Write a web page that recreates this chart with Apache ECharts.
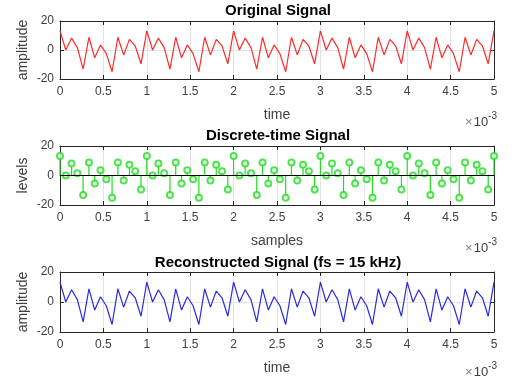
<!DOCTYPE html>
<html>
<head>
<meta charset="utf-8">
<script src="https://cdn.jsdelivr.net/npm/echarts@6/dist/echarts.min.js"></script>
<style>
html,body{margin:0;padding:0;background:#fff;}
#chart{width:527px;height:390px;}
</style>
</head>
<body>
<div id="chart"></div>
<script>
// ---- data ----
const fs = 15000; // sampling frequency (Hz)
const titles = ['Original Signal', 'Discrete-time Signal', 'Reconstructed Signal (fs = 15 kHz)'];
const xNames = ['time', 'samples', 'time'];
const yNames = ['amplitude', 'levels', 'amplitude'];
const xTicks = [0, 0.5, 1, 1.5, 2, 2.5, 3, 3.5, 4, 4.5, 5]; // ×10^-3
const yTicks = [-20, 0, 20];
const signalValues = [
  13.2, 0, 8.2, 1.6, -13.2, 8.8, -5.4, 3.5, -2.5, -15, 8.8, -3.4, 7.3, 2.8, -9.5,
  13.2, 0, 8.2, 1.6, -13.2, 8.8, -5.4, 3.5, -2.5, -15, 8.8, -3.4, 7.3, 2.8, -9.5,
  13.2, 0, 8.2, 1.6, -13.2, 8.8, -5.4, 3.5, -2.5, -15, 8.8, -3.4, 7.3, 2.8, -9.5,
  13.2, 0, 8.2, 1.6, -13.2, 8.8, -5.4, 3.5, -2.5, -15, 8.8, -3.4, 7.3, 2.8, -9.5,
  13.2, 0, 8.2, 1.6, -13.2, 8.8, -5.4, 3.5, -2.5, -15, 8.8, -3.4, 7.3, 2.8, -9.5,
  13.2
];

// ---- build ----
const pts = signalValues.map((v, i) => [i / fs, v]);
const chart = echarts.init(document.getElementById('chart'), null, {renderer: 'canvas'});
const FONT = 'Liberation Sans, Arial, Helvetica, sans-serif';
const AX = '#262626';
const LBL = '#404040';

const grids = [
  {left: 60, right: 33, top: 21, height: 58},
  {left: 60, right: 33, top: 146, height: 59},
  {left: 60, right: 33, top: 272, height: 60}
];

const xAxes = [], yAxes = [], titleArr = [], graphics = [];
const titleTops = [3, 128, 255];
const expTops = [111, 237, 361];
grids.forEach((g, i) => {
  titleArr.push({
    text: titles[i], left: 278, textAlign: 'center', top: titleTops[i], padding: 0,
    textStyle: {fontFamily: FONT, fontSize: 15, fontWeight: 'bold', color: '#000'}
  });
  xAxes.push({
    type: 'value', gridIndex: i, min: 0, max: 0.005, interval: 0.0005,
    name: xNames[i], nameLocation: 'middle', nameGap: 29, nameMoveOverlap: false,
    nameTextStyle: {fontFamily: FONT, fontSize: 14, color: LBL},
    axisLine: {show: true, onZero: false, lineStyle: {color: AX}},
    axisTick: {show: true, inside: true, length: 4, lineStyle: {color: AX}},
    axisLabel: {fontFamily: FONT, fontSize: 12, color: LBL, margin: 7,
      formatter: v => { const t = Math.round(v * 10000) / 10; return xTicks.indexOf(t) >= 0 ? String(t) : ''; }},
    splitLine: {show: true, lineStyle: {color: '#e3e3e3'}}
  });
  xAxes.push({
    type: 'value', gridIndex: i, position: 'top', min: 0, max: 0.005, interval: 0.0005,
    axisLine: {show: true, onZero: false, lineStyle: {color: AX}},
    axisTick: {show: true, inside: true, length: 4, lineStyle: {color: AX}},
    axisLabel: {show: false}, splitLine: {show: false}
  });
  yAxes.push({
    type: 'value', gridIndex: i, min: -20, max: 20, interval: 20,
    name: yNames[i], nameLocation: 'middle', nameGap: 30, nameRotate: 90, nameMoveOverlap: false,
    nameTextStyle: {fontFamily: FONT, fontSize: 14, color: LBL},
    axisLine: {show: true, onZero: false, lineStyle: {color: AX}},
    axisTick: {show: true, inside: true, length: 4, lineStyle: {color: AX}},
    axisLabel: {fontFamily: FONT, fontSize: 12, color: LBL, margin: 6,
      formatter: v => yTicks.indexOf(v) >= 0 ? String(v) : ''},
    splitLine: {show: true, lineStyle: {color: '#e3e3e3'}}
  });
  yAxes.push({
    type: 'value', gridIndex: i, position: 'right', min: -20, max: 20, interval: 20,
    axisLine: {show: true, onZero: false, lineStyle: {color: AX}},
    axisTick: {show: true, inside: true, length: 4, lineStyle: {color: AX}},
    axisLabel: {show: false}, splitLine: {show: false}
  });
  graphics.push({
    type: 'text', right: 30, top: expTops[i],
    style: {
      text: '{a|×}{b|10}{c|-3}',
      rich: {
        a: {fontFamily: FONT, fontSize: 13, fill: '#808080', padding: [2, 1, 0, 0]},
        b: {fontFamily: FONT, fontSize: 13, fill: LBL, padding: [2, 0, 0, 0]},
        c: {fontFamily: FONT, fontSize: 10, fill: LBL, padding: [0, 0, 10, 0]}
      }
    }
  });
});

const series = [
  {
    type: 'line', xAxisIndex: 0, yAxisIndex: 0, data: pts, symbol: 'none',
    lineStyle: {color: '#ff2a2a', width: 1.2}, animation: false
  },
  {
    type: 'custom', xAxisIndex: 2, yAxisIndex: 2, data: pts, animation: false,
    renderItem: (params, api) => {
      const p0 = api.coord([api.value(0), 0]);
      const p1 = api.coord([api.value(0), api.value(1)]);
      return {type: 'line', shape: {x1: p0[0], y1: p0[1], x2: p1[0], y2: p1[1]},
        style: {stroke: '#22dd22', lineWidth: 1.2}};
    },
    markLine: {
      silent: true, symbol: 'none', label: {show: false},
      lineStyle: {color: '#000', type: 'solid', width: 1},
      data: [{yAxis: 0}]
    }
  },
  {
    type: 'scatter', xAxisIndex: 2, yAxisIndex: 2, data: pts, animation: false,
    symbol: 'emptyCircle', symbolSize: 6,
    itemStyle: {color: '#22dd22', borderColor: '#22dd22', borderWidth: 1}
  },
  {
    type: 'line', xAxisIndex: 4, yAxisIndex: 4, data: pts, symbol: 'none',
    lineStyle: {color: '#2a2ae6', width: 1.2}, animation: false
  }
];

chart.setOption({
  animation: false,
  backgroundColor: '#fff',
  title: titleArr,
  grid: grids,
  xAxis: xAxes,
  yAxis: yAxes,
  series: series,
  graphic: graphics
});
</script>
</body>
</html>
